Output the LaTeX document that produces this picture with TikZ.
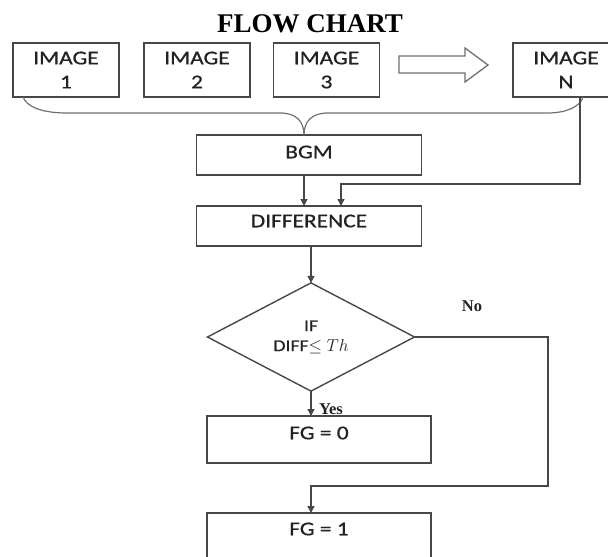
\documentclass[tikz,border=0pt]{standalone}
\usepackage{fontspec}
\usetikzlibrary{arrows.meta,shapes.geometric}
\newfontfamily\boxfont[FakeStretch=1.2,FakeBold=0.8]{Carlito}
\newfontfamily\headfont{Liberation Serif}
\definecolor{ink}{HTML}{222222}
\definecolor{frame}{HTML}{474747}
\definecolor{soft}{HTML}{707070}

\begin{document}
\begin{tikzpicture}[x=1pt,y=-1pt,
  every node/.style={inner sep=0pt, outer sep=0pt},
  boxtext/.style={font=\boxfont\fontsize{19.5}{24}\selectfont, text=ink},
  imgbox/.style={boxtext, draw=frame, line width=1.4pt, rectangle,
    minimum width=106pt, minimum height=54pt, align=center},
  flowbox/.style={draw=frame, line width=1.4pt, rectangle,
    minimum width=225pt, minimum height=40pt},
  fgbox/.style={draw=frame, line width=1.4pt, rectangle,
    minimum width=224pt, minimum height=47pt},
  decision/.style={draw=frame, line width=1.4pt, diamond,
    minimum width=207pt, minimum height=98pt, align=center,
    font=\boxfont\fontsize{16.5}{20}\selectfont, text=ink},
  yesno/.style={font=\headfont\bfseries\fontsize{16.5}{18}\selectfont, text=ink},
  arr/.style={draw=frame, line width=1.4pt, -{Triangle[length=7pt,width=7pt]}},
  brace/.style={draw=soft, line width=1.2pt},
  bigarrow/.style={draw=soft, line width=1.3pt, fill=white, line join=miter}]

\useasboundingbox (0,0) rectangle (608,557);
\clip (0,0) rectangle (608,557);

% title
\node[font=\headfont\bfseries\fontsize{27}{30}\selectfont, text=black] (title) at (310,23.5) {FLOW CHART};

% input frames
\node[imgbox] (img1) at (66,70)    {IMAGE\\1};
\node[imgbox] (img2) at (197,70)   {IMAGE\\2};
\node[imgbox] (img3) at (326.5,70) {IMAGE\\3};
\node[imgbox] (imgN) at (566,70)   {IMAGE\\N};

% "and so on" block arrow
\draw[bigarrow] (399,56) -- (465,56) -- (465,48) -- (488,65) -- (465,82)
  -- (465,73) -- (399,73) -- cycle;

% processing steps
\node[flowbox, label={[boxtext, name=bgmtxt, yshift=3pt]center:BGM}] (bgm) at (309,155) {};
\node[flowbox, label={[boxtext, name=difftxt, yshift=5pt]center:DIFFERENCE}] (diff) at (309,226) {};
\node[decision] (dia) at (311,337) {IF\\DIFF$\leq$ $Th$};
\node[fgbox, label={[boxtext, name=fg0txt, yshift=6.5pt]center:FG = 0}] (fg0) at (319,439.5) {};
\node[fgbox, label={[boxtext, name=fg1txt, yshift=7.5pt]center:FG = 1}] (fg1) at (319,536.5) {};

% brace gathering all frames into the background model
\coordinate (braceL) at ([xshift=-43pt]img1.south);
\coordinate (braceR) at ([xshift=17pt]imgN.south);
\coordinate (cusp)   at (304,135);
\draw[brace] (braceL) .. controls ++(4,10) and (42,113) .. (67,113) -- (280,113)
  .. controls (296,113) and (304,121) .. (cusp);
\draw[brace] (cusp) .. controls (304,121) and (312,113) .. (328,113) -- (547,113)
  .. controls (566,113) and (580,107) .. (braceR);

% background model and current frame into the difference
\draw[arr] (bgm.south -| cusp) -- (diff.north -| cusp);
\coordinate (feedN) at ([xshift=14pt]imgN.south);
\coordinate (feedIn) at (341,206);
\draw[arr] (feedN) -- (feedN |- 0,184) -| (feedIn);

% difference into the threshold test
\draw[arr] (diff.south -| dia.north) -- (dia.north);

% yes branch
\draw[arr] (dia.south) -- (fg0.north -| dia.south);
\node[yesno, anchor=west] (yes) at (319,409) {Yes};

% no branch
\coordinate (noTurn) at (548,486);
\draw[arr] (dia.east) -| (noTurn) -| (fg1.north -| dia.south);
\node[yesno] (no) at (472,306) {No};

\end{tikzpicture}
\end{document}
